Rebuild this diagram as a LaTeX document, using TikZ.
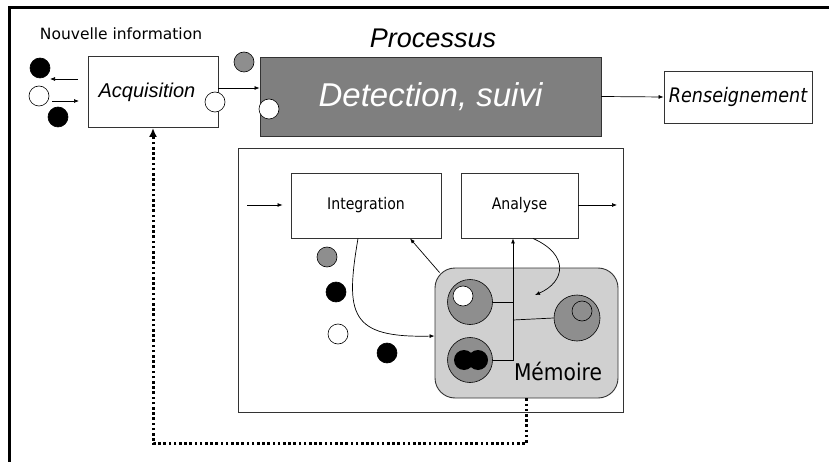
\documentclass[tikz,border=0pt]{standalone}
\usepackage{fontspec}
\setmainfont{DejaVu Sans}
\newfontfamily\arialfont{Liberation Sans}
\newfontfamily\narrowfont{DejaVu Sans}[FakeStretch=0.88]
\usetikzlibrary{arrows.meta,calc}
\definecolor{procgray}{HTML}{7F7F7F}
\definecolor{memgray}{HTML}{D0D0D0}
\definecolor{cellgray}{HTML}{8E8E8E}
\definecolor{edgegray}{HTML}{333333}
\tikzset{
  box/.style={draw=edgegray, line width=0.9pt, rectangle, inner sep=0pt},
  arr/.style={draw=black, line width=0.7pt, -{Latex[length=5pt,width=4pt]}},
  dot/.style={circle, draw=black, line width=0.6pt, minimum size=20pt, inner sep=0pt},
  cell/.style={circle, draw=black, line width=0.6pt, fill=cellgray, minimum size=45pt, inner sep=0pt},
  link/.style={draw=black, line width=0.7pt},
  feedback/.style={draw=black, line width=3pt, dash pattern=on 2.6pt off 2.6pt,
    -{Latex[length=9pt,width=8pt]}},
}
\begin{document}
\begin{tikzpicture}[x=1pt,y=-1pt]
\useasboundingbox (0,0) rectangle (829,462);
\fill[white] (0,0) rectangle (829,462);
% page frame (top and left edges only)
\draw[line width=3pt] (9,462) -- (9,8) -- (829,8);

% top row
\node[anchor=center, font=\fontsize{15.5}{18}\selectfont] (newinfo) at (121,34) {Nouvelle information};
\node[box, fill=white, minimum width=130pt, minimum height=71pt,
      font=\arialfont\itshape\fontsize{20}{23}\selectfont] (acq) at (153,92) {Acquisition\hspace*{12pt}};
\node[box, fill=procgray, minimum width=341pt, minimum height=79pt, text=white,
      font=\arialfont\itshape\fontsize{33}{38}\selectfont] (det) at (430.5,96.5) {\raisebox{-3pt}{Detection, suivi}};
\node[font=\arialfont\itshape\fontsize{27}{32}\selectfont] (proc) at (433,38) {Processus};
\node[box, fill=white, minimum width=148pt, minimum height=52pt,
      font=\narrowfont\itshape\fontsize{20}{23}\selectfont] (rens) at (738,97) {Renseignement};

% incoming and outgoing information items
\node[dot, fill=black] (in1) at (40,68) {};
\node[dot, fill=white] (in2) at (39,96) {};
\node[dot, fill=black] (in3) at (58,117) {};
\node[dot, fill=white] (acqout) at (215,102) {};
\node[dot, fill=cellgray] (detin1) at (244,62) {};
\node[dot, fill=white] (detin2) at (269,109) {};

\coordinate (l1a) at (78,79);
\coordinate (l1b) at (50,79);
\coordinate (l2a) at (52,101);
\coordinate (l2b) at (79,101);
\draw[arr] (l1a) -- (l1b);
\draw[arr] (l2a) -- (l2b);

\draw[arr] ([yshift=4pt]acq.east) -- ([yshift=4pt]acq.east -| det.west);
\draw[arr] (det.east) -- (rens.west);

% processing block
\node[box, minimum width=385pt, minimum height=264pt] (core) at (430.5,280) {};
\node[box, fill=white, minimum width=150pt, minimum height=65pt,
      font=\narrowfont\fontsize{16}{19}\selectfont] (int) at (366,205.5) {Integration};
\node[box, fill=white, minimum width=117pt, minimum height=65pt,
      font=\narrowfont\fontsize{16}{19}\selectfont] (ana) at (519.5,205.5) {Analyse};
\coordinate (corein) at (247,205);
\coordinate (coreout) at (617,205);
\draw[arr] (corein) -- ([xshift=-8pt]corein -| int.west);
\draw[arr] (ana.east |- coreout) -- (coreout);

\node[draw=edgegray, line width=0.9pt, fill=memgray, rounded corners=20pt,
      minimum width=183pt, minimum height=130pt, inner sep=0pt] (mem) at (526.5,333) {};
\node[font=\narrowfont\fontsize{23}{27}\selectfont] (memlabel) at (558,371) {Mémoire};

% memory cells
\node[cell] (c1) at (470,302) {};
\node[circle, draw=black, line width=0.6pt, fill=white, minimum size=20pt, inner sep=0pt] (c1in) at (463,296) {};
\node[cell] (c2) at (470,360) {};
\fill[black] (464,360) circle (10pt) (478,360) circle (10pt);
\node[cell, minimum size=46pt] (c3) at (577,318) {};
\node[circle, draw=black, line width=0.6pt, fill=cellgray, minimum size=20pt, inner sep=0pt] (c3in) at (582,311) {};

\coordinate (bustop) at (513,302);
\coordinate (busmid) at (513,320);
\coordinate (busbot) at (513,360);
\draw[link] (c1.east) -- (bustop) -- (busbot) -- (c2.east);
\draw[link] (busmid) -- (c3.west);
\draw[arr] (bustop) -- (bustop |- ana.south);

% exchanges between memory and the two stages
\draw[arr] ([xshift=5pt,yshift=-5pt]mem.north west) -- ([xshift=44pt]int.south);
\draw[arr] ([xshift=-8pt]int.south) .. controls (345,315) and (350,338) .. ([yshift=-3pt]mem.west);
\draw[arr] ([xshift=13.5pt]ana.south) .. controls (570,255) and (565,282) .. (535,295);

% information items being integrated
\node[dot, fill=cellgray] (m1) at (327,257) {};
\node[dot, fill=black] (m2) at (336,292) {};
\node[dot, fill=white] (m3) at (338,334) {};
\node[dot, fill=black] (m4) at (387,353) {};

% feedback from memory to acquisition
\draw[feedback] (mem.south) -- ++(0,45) -| (acq.south);
\end{tikzpicture}
\end{document}
